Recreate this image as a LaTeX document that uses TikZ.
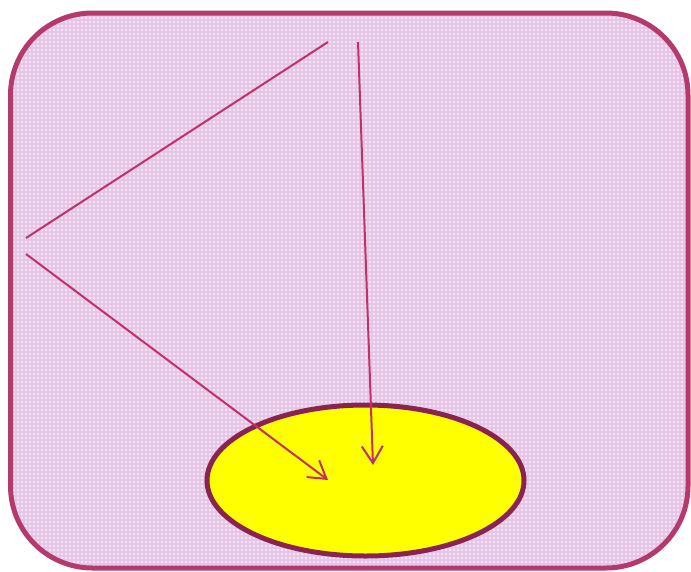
\documentclass[tikz,border=0pt]{standalone}
\usetikzlibrary{arrows.meta,shapes.geometric}
\definecolor{frameC}{HTML}{B53A6B}
\definecolor{fillC}{HTML}{F5E4F5}
\definecolor{gridC}{HTML}{E5C6E6}
\definecolor{lineC}{HTML}{C2306B}
\definecolor{ellC}{HTML}{8A2352}
\definecolor{yel}{rgb}{1,1,0}
\tikzset{
  frame/.style={draw=frameC,line width=5pt,rounded corners=82pt},
  conn/.style={draw=lineC,line width=2pt},
  arr/.style={conn,-{Straight Barb[length=17pt,width=21pt,line width=2pt]}},
  blob/.style={ellipse,draw=ellC,line width=5pt,fill=yel,minimum width=317pt,minimum height=151pt,inner sep=0pt}
}
\begin{document}
\begin{tikzpicture}[x=1pt,y=-1pt]
\useasboundingbox (0,0) rectangle (691,571);
\fill[white] (0,0) rectangle (691,571);
\begin{scope}
  \clip[rounded corners=82pt] (10.5,13) rectangle (688,568);
  \fill[fillC] (0,0) rectangle (691,571);
  \foreach \i in {0,4,...,692} {\draw[gridC,line width=1.3pt] (\i,0) -- (\i,571);}
  \foreach \j in {0,4,...,572} {\draw[gridC,line width=1.3pt] (0,\j) -- (691,\j);}
\end{scope}
\draw[frame] (10.5,13) rectangle (688,568);
\node[blob] (E) at (365.5,480.5) {};
\coordinate (a1) at (328,42);
\coordinate (a2) at (26,238);
\coordinate (b1) at (26,254);
\coordinate (b2) at (328,480);
\coordinate (c1) at (358,42);
\coordinate (c2) at (373,465);
\draw[conn] (a1) -- (a2);
\draw[arr] (b1) -- (b2);
\draw[arr] (c1) -- (c2);
\end{tikzpicture}
\end{document}
